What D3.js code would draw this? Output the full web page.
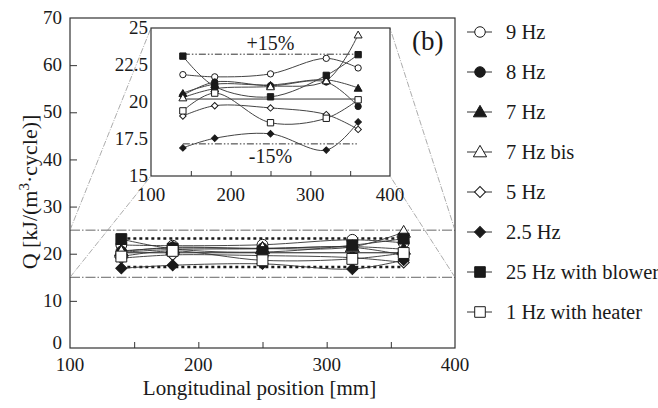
<!DOCTYPE html>
<html>
<head>
<meta charset="utf-8">
<script src="https://cdn.jsdelivr.net/npm/d3@7/dist/d3.min.js"></script>
<style>
  html, body { margin: 0; padding: 0; background: #fff; }
  svg { display: block; font-family: "Liberation Serif", "DejaVu Serif", serif; }
</style>
</head>
<body>
<svg id="chart" width="658" height="408"></svg>
<script>
// Measurement positions along the regenerator [mm]
const positions = [140, 180, 250, 320, 360];

// Heat released per unit volume and cycle, Q [kJ/(m3·cycle)]
const seriesNames = ["9 Hz", "8 Hz", "7 Hz", "7 Hz bis", "5 Hz", "2.5 Hz", "25 Hz with blower", "1 Hz with heater"];
const q9Hz       = [21.85, 21.70, 21.90, 22.95, 22.30];
const q8Hz       = [20.45, 21.35, 21.10, 21.35, 19.70];
const q7Hz       = [20.60, 21.20, 21.15, 21.50, 20.95];
const q7HzBis    = [20.30, 20.90, 21.05, 21.45, 24.55];
const q5Hz       = [19.05, 19.75, 19.60, 19.15, 18.15];
const q2_5Hz     = [16.90, 17.55, 17.85, 16.75, 18.65];
const q25HzBlow  = [23.10, 21.05, 20.35, 21.80, 23.20];
const q1HzHeat   = [19.40, 20.60, 18.60, 18.90, 20.15];
const seriesValues = [q9Hz, q8Hz, q7Hz, q7HzBis, q5Hz, q2_5Hz, q25HzBlow, q1HzHeat];

// Average level and the ±15 % band around it
const meanQ = 20.2;
const bandPct = 0.15;

// Axis ticks
const mainYTicks = [0, 10, 20, 30, 40, 50, 60, 70];
const xTickLabels = [100, 200, 300, 400];
const xMinorTicks = [150, 200, 250, 300, 350];
const insetYTicks = [15, 17.5, 20, 22.5, 25];

// Marker style for each series: shape and fill
const markerStyle = [
  { shape: "circle",   filled: false },
  { shape: "circle",   filled: true  },
  { shape: "triangle", filled: true  },
  { shape: "triangle", filled: false },
  { shape: "diamond",  filled: false },
  { shape: "diamond",  filled: true  },
  { shape: "square",   filled: true  },
  { shape: "square",   filled: false }
];

const ink = "#1a1a1a";
const svg = d3.select("#chart");

function symbolPath(shape, scale) {
  const s = {
    circle:   { type: d3.symbolCircle,   size: 92 },
    triangle: { type: d3.symbolTriangle, size: 80 },
    diamond:  { type: d3.symbolSquare,   size: 62 },
    square:   { type: d3.symbolSquare,   size: 118 }
  }[shape];
  return d3.symbol().type(s.type).size(s.size * scale)();
}

function drawMarker(g, x, y, style, scale) {
  g.append("path")
    .attr("d", symbolPath(style.shape, scale))
    .attr("transform", `translate(${x},${y})` + (style.shape === "diamond" ? " rotate(45)" : "") + (style.shape === "triangle" ? " translate(0,1)" : ""))
    .attr("fill", style.filled ? ink : "#fff")
    .attr("stroke", ink)
    .attr("stroke-width", 1);
}

// ---------- Main plot ----------
const x = d3.scaleLinear().domain([100, 400]).range([70, 455]);
const y = d3.scaleLinear().domain([0, 70]).range([348, 18]);

const main = svg.append("g");

// zoom window lines at 15 and 25
[15, 25].forEach(v => {
  main.append("line")
    .attr("x1", x(100)).attr("x2", x(400))
    .attr("y1", y(v)).attr("y2", y(v))
    .attr("stroke", "#555").attr("stroke-width", 0.9)
    .attr("stroke-dasharray", "10,2,1.5,2");
});

// ±15 % band and the average level
const bandG = main.append("g");
[meanQ * (1 + bandPct), meanQ * (1 - bandPct)].forEach(v => {
  bandG.append("line")
    .attr("x1", x(positions[0])).attr("x2", x(positions[positions.length - 1]))
    .attr("y1", y(v)).attr("y2", y(v))
    .attr("stroke", ink).attr("stroke-width", 2.6)
    .attr("stroke-dasharray", "3,3");
});
bandG.append("line")
  .attr("x1", x(positions[0])).attr("x2", x(positions[positions.length - 1]))
  .attr("y1", y(meanQ)).attr("y2", y(meanQ))
  .attr("stroke", ink).attr("stroke-width", 1);

const lineMain = d3.line()
  .x((d, i) => x(positions[i]))
  .y(d => y(d))
  .curve(d3.curveCatmullRom.alpha(0.5));

seriesValues.forEach(vals => {
  main.append("path").attr("d", lineMain(vals))
    .attr("fill", "none").attr("stroke", "#333").attr("stroke-width", 0.9);
});
seriesValues.forEach((vals, si) => {
  vals.forEach((v, i) => drawMarker(main, x(positions[i]), y(v), markerStyle[si], 1));
});

// frame
main.append("rect")
  .attr("x", x(100)).attr("y", y(70))
  .attr("width", x(400) - x(100)).attr("height", y(0) - y(70))
  .attr("fill", "none").attr("stroke", "#333").attr("stroke-width", 1.2);

// main axes
const yAxis = d3.axisLeft(y).tickValues(mainYTicks).tickSize(-7).tickPadding(8).tickFormat(d3.format("d"));
const gy = main.append("g").attr("transform", `translate(${x(100)},0)`).call(yAxis);
gy.select(".domain").remove();
gy.selectAll(".tick line").filter(d => d === 0 || d === 70).remove();
gy.selectAll(".tick text").attr("font-size", 19).attr("fill", ink)
  .attr("font-family", "Liberation Serif")
  .attr("dy", d => d === 0 ? "0.05em" : "0.3em");
gy.selectAll(".tick line").attr("stroke", "#333");

const xAxis = d3.axisBottom(x).tickValues(xMinorTicks).tickSize(-6).tickFormat("");
const gx = main.append("g").attr("transform", `translate(0,${y(0)})`).call(xAxis);
gx.select(".domain").remove();
gx.selectAll(".tick line").attr("stroke", "#333");

main.append("g").selectAll("text").data(xTickLabels).join("text")
  .attr("x", d => x(d)).attr("y", 370.5)
  .attr("text-anchor", "middle").attr("font-size", 19).attr("fill", ink)
  .text(d => d);

// axis titles
svg.append("text")
  .attr("x", x(250) - 3).attr("y", 394.5)
  .attr("text-anchor", "middle").attr("font-size", 21).attr("fill", ink)
  .text("Longitudinal position [mm]");

const yTitle = svg.append("text")
  .attr("transform", `translate(37,192) rotate(-90)`)
  .attr("text-anchor", "middle").attr("font-size", 22).attr("fill", ink);
yTitle.append("tspan").text("Q [kJ/(m");
yTitle.append("tspan").attr("dy", -8).attr("font-size", 15).text("3");
yTitle.append("tspan").attr("dy", 8).text("·cycle)]");

// ---------- Inset ----------
const xi = d3.scaleLinear().domain([100, 400]).range([151, 390]);
const yi = d3.scaleLinear().domain([15, 25]).range([176, 28]);

// connector lines from the zoom window to the inset corners
const connectors = [
  [x(100), y(25), xi(100), yi(25)],
  [x(100), y(15), xi(100), yi(15)],
  [x(400), y(25), xi(400), yi(25)],
  [x(400), y(15), xi(400), yi(15)]
];
connectors.forEach(c => {
  svg.append("line")
    .attr("x1", c[0]).attr("y1", c[1]).attr("x2", c[2]).attr("y2", c[3])
    .attr("stroke", "#888").attr("stroke-width", 0.7)
    .attr("stroke-dasharray", "6,1.5,1,1.5");
});

const inset = svg.append("g");
inset.append("rect")
  .attr("x", xi(100)).attr("y", yi(25))
  .attr("width", xi(400) - xi(100)).attr("height", yi(15) - yi(25))
  .attr("fill", "#fff").attr("stroke", "#333").attr("stroke-width", 1.2);

// ±15 % limits (dash-dot-dot) and the mean
[meanQ * (1 + bandPct), meanQ * (1 - bandPct)].forEach(v => {
  inset.append("line")
    .attr("x1", xi(positions[0])).attr("x2", xi(positions[positions.length - 1]))
    .attr("y1", yi(v)).attr("y2", yi(v))
    .attr("stroke", ink).attr("stroke-width", 0.9)
    .attr("stroke-dasharray", "7,2,1.5,2,1.5,2");
});
inset.append("line")
  .attr("x1", xi(positions[0])).attr("x2", xi(positions[positions.length - 1]))
  .attr("y1", yi(meanQ)).attr("y2", yi(meanQ))
  .attr("stroke", ink).attr("stroke-width", 0.9);

inset.append("text").attr("x", xi(250)).attr("y", yi(meanQ * (1 + bandPct)) - 4)
  .attr("text-anchor", "middle").attr("font-size", 20).attr("fill", ink).text("+15%");
inset.append("text").attr("x", xi(250)).attr("y", yi(meanQ * (1 - bandPct)) + 19)
  .attr("text-anchor", "middle").attr("font-size", 20).attr("fill", ink).text("-15%");

const lineInset = d3.line()
  .x((d, i) => xi(positions[i]))
  .y(d => yi(d))
  .curve(d3.curveCatmullRom.alpha(0.5));

seriesValues.forEach(vals => {
  inset.append("path").attr("d", lineInset(vals))
    .attr("fill", "none").attr("stroke", "#444").attr("stroke-width", 1);
});
seriesValues.forEach((vals, si) => {
  vals.forEach((v, i) => drawMarker(inset, xi(positions[i]), yi(v), markerStyle[si], 0.34));
});

// inset axes
const xiAxis = d3.axisBottom(xi).tickValues(xMinorTicks).tickSize(-5).tickFormat("");
const gxi = inset.append("g").attr("transform", `translate(0,${yi(15)})`).call(xiAxis);
gxi.select(".domain").remove();
gxi.selectAll(".tick line").attr("stroke", "#333");

inset.append("g").selectAll("text").data(xTickLabels).join("text")
  .attr("x", d => xi(d)).attr("y", 201)
  .attr("text-anchor", "middle").attr("font-size", 19).attr("fill", ink)
  .text(d => d);
inset.append("g").selectAll("text").data(insetYTicks).join("text")
  .attr("x", xi(100) - 3).attr("y", d => yi(d) + 6)
  .attr("text-anchor", "end").attr("font-size", 19).attr("fill", ink)
  .text(d => d);

// panel label
svg.append("text").attr("x", 412).attr("y", 50)
  .attr("font-size", 27).attr("fill", ink).text("(b)");

// ---------- Legend ----------
const legend = svg.append("g");
seriesNames.forEach((name, i) => {
  const ly = 32 + i * 40;
  legend.append("line").attr("x1", 467).attr("x2", 492).attr("y1", ly).attr("y2", ly)
    .attr("stroke", "#333").attr("stroke-width", 1);
  drawMarker(legend, 480, ly, markerStyle[i], 0.95);
  legend.append("text").attr("x", 506).attr("y", ly + 6.5)
    .attr("font-size", 20.5).attr("fill", ink).text(name);
});
</script>
</body>
</html>
